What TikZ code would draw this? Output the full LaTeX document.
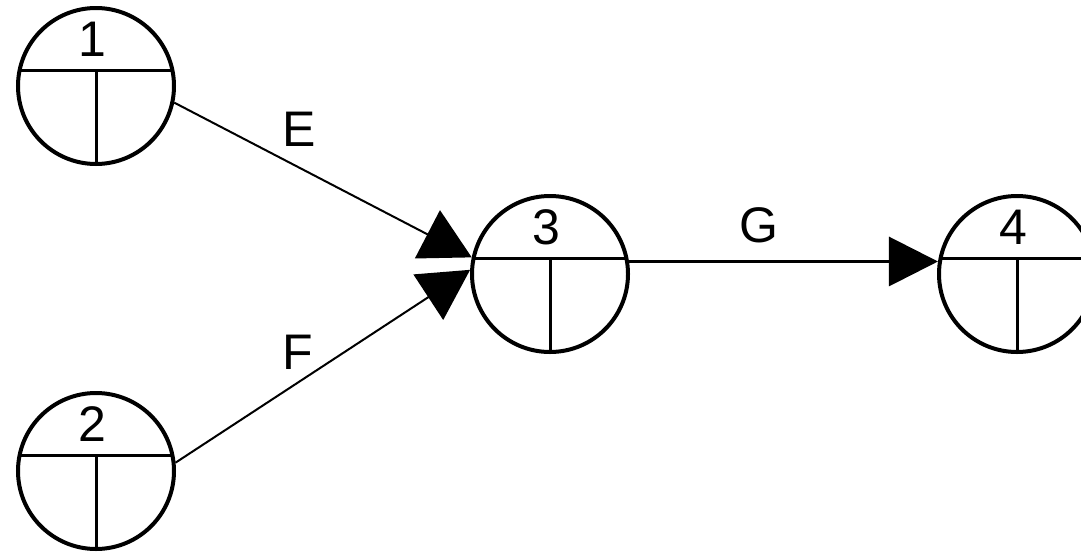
\documentclass[tikz,border=0pt]{standalone}
\usepackage{fontspec}
\setmainfont{Liberation Sans}
\usetikzlibrary{arrows.meta}
\begin{document}
\begin{tikzpicture}[x=1pt,y=-1pt,
  ev/.style={circle, draw, line width=4pt, minimum size=156pt, inner sep=0pt,
    path picture={
      \draw[line width=3pt] ([yshift=16pt]path picture bounding box.west) -- ([yshift=16pt]path picture bounding box.east);
      \draw[line width=3pt] ([yshift=16pt]path picture bounding box.center) -- ([yshift=-4pt]path picture bounding box.south);
      \node[font=\fontsize{50}{60}\selectfont, inner sep=0pt, anchor=center] at ([xshift=-4pt,yshift=47pt]path picture bounding box.center) {#1};
    }},
  thin conn/.style={line width=2pt, -{Triangle[length=50pt,width=54pt]}},
  thick conn/.style={line width=3pt, -{Triangle[length=49pt,width=49pt]}},
  lbl/.style={font=\fontsize{50}{60}\selectfont, inner sep=0pt}
]
\useasboundingbox (0,0) rectangle (1081,552);
\clip (0,0) rectangle (1081,552);
\node[ev=1] (n1) at (96,86) {};
\node[ev=2] (n2) at (96,471) {};
\node[ev=3] (n3) at (550,274) {};
\node[ev=4] (n4) at (1017,274) {};
\draw[thin conn] (n1.-12) -- node[lbl, pos=0.42, yshift=38pt] {E} (n3.168);
\draw[thin conn] (n2.6) -- node[lbl, pos=0.415, yshift=30pt] {F} (n3.177);
\draw[thick conn] (n3.9) -- node[lbl, pos=0.42, yshift=36pt] {G} (n4.171);
\end{tikzpicture}
\end{document}
